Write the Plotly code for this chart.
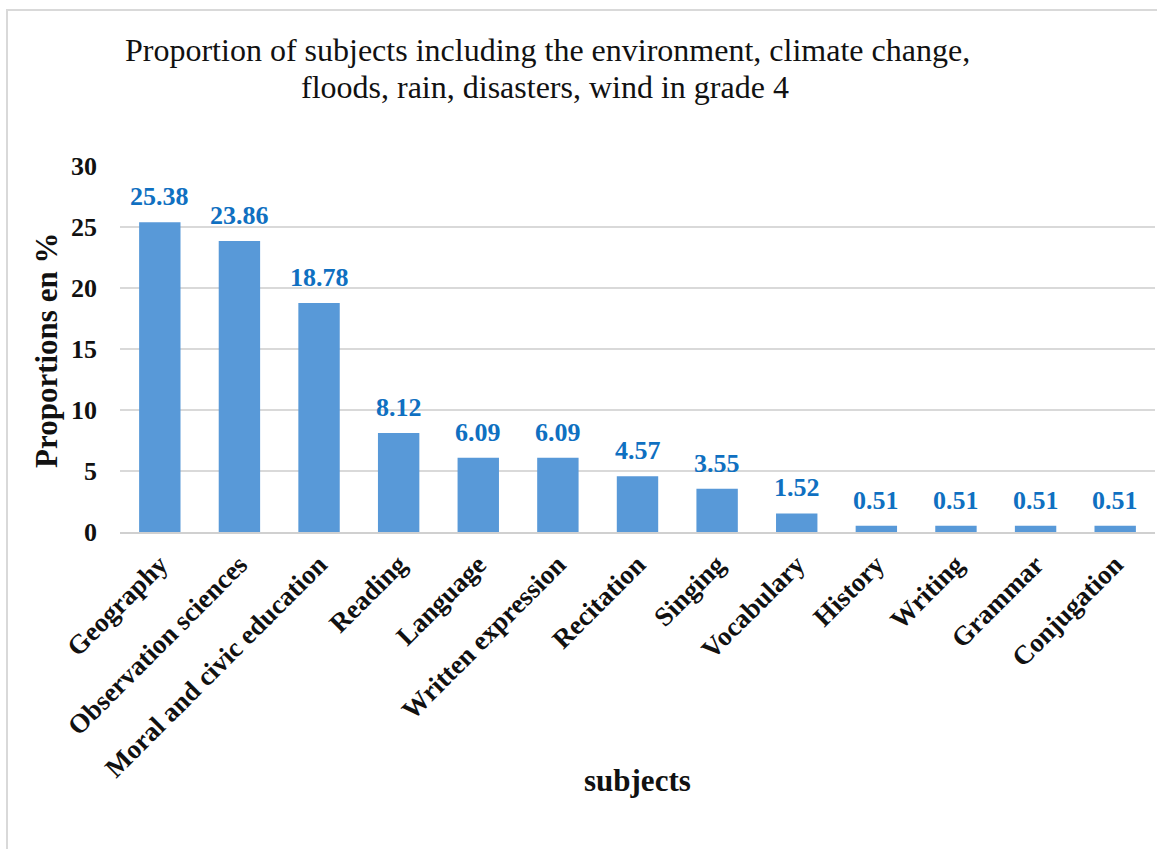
import plotly.graph_objects as go

categories = ["Geography", "Observation sciences", "Moral and civic education", "Reading",
              "Language", "Written expression", "Recitation", "Singing", "Vocabulary",
              "History", "Writing", "Grammar", "Conjugation"]
values = [25.38, 23.86, 18.78, 8.12, 6.09, 6.09, 4.57, 3.55, 1.52, 0.51, 0.51, 0.51, 0.51]
y_ticks = [0, 5, 10, 15, 20, 25, 30]

title_lines = ["Proportion of subjects including the environment, climate change,",
               "floods, rain, disasters, wind in grade 4"]

FONT = "Liberation Serif, Times New Roman, serif"
W, H = 1157, 849
L, R, T, B = 120, 2, 166, 317
pw, ph = W - L - R, H - T - B

fig = go.Figure()
fig.add_trace(go.Bar(
    x=categories, y=values, width=0.52,
    marker=dict(color="#5899D8", line=dict(width=0)),
    hoverinfo="x+y",
))

# data labels
for c, v in zip(categories, values):
    fig.add_annotation(x=c, y=v, xref="x", yref="y", text=f"{v:.2f}", showarrow=False,
                       yanchor="bottom", yshift=9,
                       font=dict(family=FONT, size=26, color="#0F70C1", weight="bold"))

def px_x(p):
    return (p - L) / pw

def px_y(p):
    return (H - B - p) / ph

# chart title (two lines, tight line spacing)
for line, cx, base in zip(title_lines, [547, 545], [62, 99]):
    fig.add_annotation(x=px_x(cx), y=px_y(base + 8), xref="paper", yref="paper", text=line,
                       showarrow=False, xanchor="center", yanchor="bottom",
                       font=dict(family=FONT, size=32, color="#111111"))
# axis titles
fig.add_annotation(x=px_x(46), y=px_y(351), xref="paper", yref="paper",
                   text="<b>Proportions en %</b>", textangle=-90, showarrow=False,
                   xanchor="center", yanchor="middle",
                   font=dict(family=FONT, size=31, color="#111111"))
fig.add_annotation(x=px_x(637), y=px_y(780), xref="paper", yref="paper",
                   text="<b>subjects</b>", showarrow=False,
                   xanchor="center", yanchor="middle",
                   font=dict(family=FONT, size=31, color="#111111"))

# outer chart border
fig.add_shape(type="rect", xref="paper", yref="paper",
              x0=px_x(7), x1=px_x(1160), y0=px_y(10), y1=px_y(860),
              line=dict(color="#D9D9D9", width=2), fillcolor="rgba(0,0,0,0)", layer="below")

fig.update_layout(
    width=W, height=H,
    margin=dict(l=L, r=R, t=T, b=B, autoexpand=False),
    paper_bgcolor="white", plot_bgcolor="white",
    showlegend=False, bargap=0.48,
    font=dict(family=FONT, color="#111111"),
)
fig.update_xaxes(
    tickangle=-45, tickfont=dict(family=FONT, size=27, color="#111111", weight="bold"),
    showgrid=False, showline=True, linecolor="#D0D0D0", linewidth=2,
    ticks="", ticklabelstandoff=4, automargin=False,
)
fig.update_yaxes(
    range=[0, 30], tickvals=y_ticks, ticktext=[str(t) for t in y_ticks],
    tickfont=dict(family=FONT, size=26, color="#111111", weight="bold"),
    showgrid=True, gridcolor="#D9D9D9", gridwidth=1.5,
    zeroline=False, showline=False, ticks="", ticklabelstandoff=22, automargin=False,
)

fig.write_html("out.html")
